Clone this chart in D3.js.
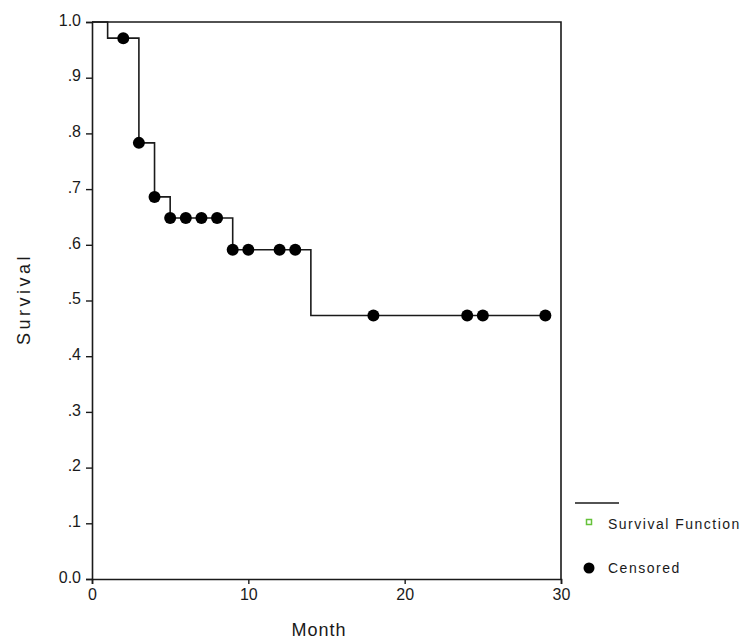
<!DOCTYPE html>
<html>
<head>
<meta charset="utf-8">
<script src="https://cdn.jsdelivr.net/npm/d3@7"></script>
<style>
  html, body { margin: 0; padding: 0; background: #fff; }
  svg { display: block; font-family: "Liberation Sans", Arial, sans-serif; }
</style>
</head>
<body>
<svg id="chart" width="750" height="640"></svg>
<script>
// ---- Data ----
const stepTimes = [0, 1, 3, 4, 5, 9, 14, 29];
const stepSurvival = [1.0, 0.971, 0.783, 0.686, 0.648, 0.591, 0.473, 0.473];
const censoredTimes = [2, 3, 4, 5, 6, 7, 8, 9, 10, 12, 13, 18, 24, 25, 29];
const censoredSurvival = [0.971, 0.783, 0.686, 0.648, 0.648, 0.648, 0.648, 0.591, 0.591, 0.591, 0.591, 0.473, 0.473, 0.473, 0.473];
const xTickValues = [0, 10, 20, 30];
const xTickLabels = ["0", "10", "20", "30"];
const yTickValues = [0, 0.1, 0.2, 0.3, 0.4, 0.5, 0.6, 0.7, 0.8, 0.9, 1.0];
const yTickLabels = ["0.0", ".1", ".2", ".3", ".4", ".5", ".6", ".7", ".8", ".9", "1.0"];
const legendLabels = ["Survival Function", "Censored"];

// ---- Layout ----
const svg = d3.select("#chart");
const plotLeft = 92, plotRight = 561, plotTop = 22, plotBottom = 579;
const x = d3.scaleLinear().domain([0, 30]).range([plotLeft, plotRight]);
const y = d3.scaleLinear().domain([0, 1]).range([plotBottom, plotTop]);
const ink = "#1a1a1a";

// Frame (top & right)
svg.append("path")
  .attr("d", `M${plotLeft},${plotTop}H${plotRight}V${plotBottom}`)
  .attr("fill", "none").attr("stroke", ink).attr("stroke-width", 1.6);

// Axes
const xAxis = d3.axisBottom(x).tickValues(xTickValues)
  .tickFormat((d, i) => xTickLabels[i]).tickSize(5).tickPadding(4);
const yAxis = d3.axisLeft(y).tickValues(yTickValues)
  .tickFormat((d, i) => yTickLabels[i]).tickSize(6).tickPadding(5);

const gx = svg.append("g").attr("transform", `translate(0,${plotBottom})`).call(xAxis);
const gy = svg.append("g").attr("transform", `translate(${plotLeft},0)`).call(yAxis);
[gx, gy].forEach(g => {
  g.select(".domain").attr("stroke", ink).attr("stroke-width", 1.6);
  g.selectAll(".tick line").attr("stroke", ink).attr("stroke-width", 1.4);
  g.selectAll(".tick text").attr("fill", ink)
    .style("font-size", "16px").style("font-family", "'Liberation Sans', Arial, sans-serif");
});
gy.selectAll(".tick text").attr("dy", "0.2em");
gx.selectAll(".tick text").attr("dy", "0.75em");

// Survival step curve
const line = d3.line()
  .x(d => x(d[0])).y(d => y(d[1]))
  .curve(d3.curveStepAfter);
svg.append("path")
  .datum(stepTimes.map((t, i) => [t, stepSurvival[i]]))
  .attr("d", line)
  .attr("fill", "none").attr("stroke", ink).attr("stroke-width", 1.6);

// Censored markers
svg.append("g").selectAll("circle")
  .data(censoredTimes.map((t, i) => [t, censoredSurvival[i]]))
  .join("circle")
  .attr("cx", d => x(d[0])).attr("cy", d => y(d[1]))
  .attr("r", 6).attr("fill", "#000");

// Axis titles
svg.append("text")
  .attr("x", 319).attr("y", 636)
  .attr("text-anchor", "middle")
  .style("font-size", "18px").style("letter-spacing", "1px")
  .attr("fill", ink).text("Month");
svg.append("text")
  .attr("transform", "translate(30,299) rotate(-90)")
  .attr("text-anchor", "middle")
  .style("font-size", "18px").style("letter-spacing", "3.5px")
  .attr("fill", ink).text("Survival");

// Legend
const lg = svg.append("g");
lg.append("line").attr("x1", 575).attr("x2", 619).attr("y1", 503).attr("y2", 503)
  .attr("stroke", ink).attr("stroke-width", 1.6);
lg.append("rect").attr("x", 586.5).attr("y", 519.5).attr("width", 5).attr("height", 5)
  .attr("fill", "none").attr("stroke", "#66c23a").attr("stroke-width", 1.5);
lg.append("circle").attr("cx", 589).attr("cy", 568).attr("r", 5.5).attr("fill", "#000");
lg.selectAll("text.leg")
  .data(legendLabels)
  .join("text")
  .attr("class", "leg")
  .attr("x", 608).attr("y", (d, i) => i === 0 ? 529 : 573)
  .style("font-size", "14px").style("letter-spacing", "1.5px")
  .attr("fill", ink).text(d => d);
</script>
</body>
</html>
